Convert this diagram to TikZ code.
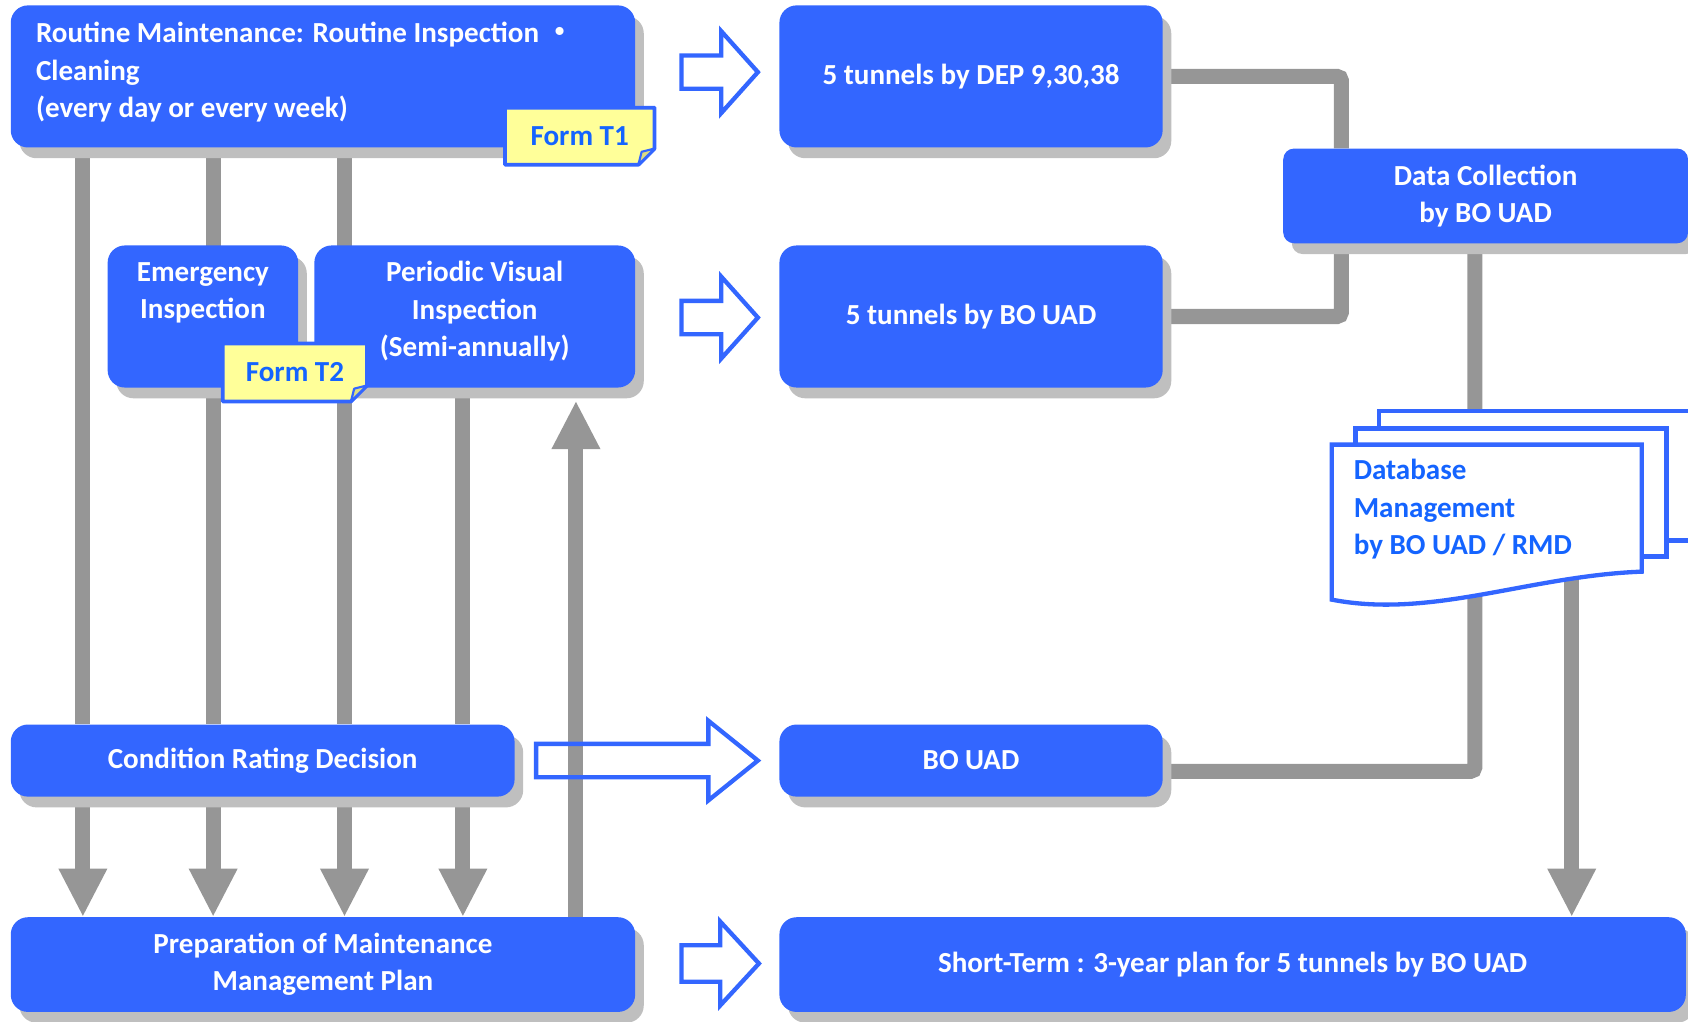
\documentclass[tikz,border=0pt]{standalone}
\usepackage{fontspec}
\setmainfont{Carlito}
\newfontfamily\cjk{Noto Sans CJK JP}
\usetikzlibrary{shadows,arrows.meta}

\definecolor{boxblue}{RGB}{51,102,255}
\definecolor{shadowgrey}{RGB}{191,191,191}
\definecolor{conngrey}{RGB}{150,150,150}
\definecolor{noteyellow}{RGB}{255,255,153}
\definecolor{foldyellow}{RGB}{220,220,130}
\definecolor{inkblue}{RGB}{20,100,255}

\pgfdeclarelayer{background}
\pgfsetlayers{background,main}

\tikzset{
  lbl/.style={font=\fontsize{27pt}{34.5pt}\selectfont\bfseries},
  stepbox/.style={lbl, fill=boxblue, text=white, rounded corners=16pt,
    inner sep=0pt, align=center,
    drop shadow={shadow xshift=8pt, shadow yshift=-10pt, fill=shadowgrey, opacity=1}},
  conn/.style={draw=conngrey, line width=14pt},
  arr/.style={conn, -{Triangle[width=42pt,length=45pt]}},
  hollow/.style={draw=boxblue, line width=4pt, line join=miter},
  page/.style={draw=boxblue, fill=white, line width=4pt},
  noteedge/.style={draw=boxblue, fill=noteyellow, line width=3.5pt, line join=round},
  notetxt/.style={lbl, text=inkblue},
}

% process box given by its corners: [options]{name}{x1}{y1}{x2}{y2}{text}
\newcommand\stepnode[7][]{%
  \node[stepbox, #1, minimum width={#5-#3}, minimum height={#6-#4}]
    (#2) at ({(#3+#5)/2},{(#4+#6)/2}) {#7};}

% hollow block arrow: tail x, head start x, tip x, centre y, shaft half height, head half height
\newcommand\blkarrow[6]{%
  \draw[hollow] (#1,#4-#5) -- (#2,#4-#5) -- (#2,#4-#6) -- (#3,#4)
    -- (#2,#4+#6) -- (#2,#4+#5) -- (#1,#4+#5) -- cycle;}

% sticky note with folded lower right corner: x1, y1, x2, y2, name, text
\newcommand\formnote[6]{%
  \draw[noteedge] (#1,#2) -- (#3,#2) -- (#3,#4-15) -- (#3-15,#4) -- (#1,#4) -- cycle;
  \draw[draw=boxblue, fill=foldyellow, line width=2pt, line join=round]
    (#3,#4-15) -- (#3-15,#4) -- (#3-12,#4-12) -- cycle;
  \node[notetxt] (#5) at ({(#1+#3)/2},{(#2+#4)/2}) {#6};}

\begin{document}
\begin{tikzpicture}[x=1pt, y=-1pt]
\useasboundingbox (0,0) rectangle (1568,949);
\clip (0,0) rectangle (1568,949);

% process boxes
\stepnode{box1}{10}{5}{590}{137}{}
\node[lbl, text=white, anchor=west, align=left] (box1txt) at (30,67)
  {Routine Maintenance: Routine Inspection {\cjk ・}\\Cleaning\\(every day or every week)};
\stepnode{emg}{100}{228}{277}{360}{}
\node[lbl, text=white, align=center] (emgtxt) at (188.5,272) {Emergency\\Inspection};
\stepnode{per}{292}{228}{590}{360}{}
\node[lbl, text=white, align=center] (pertxt) at (441,289) {Periodic Visual\\Inspection\\(Semi-annually)};
\stepnode{cond}{10}{673}{478}{740}{Condition Rating Decision}
\stepnode{prep}{10}{852}{590}{940}{Preparation of Maintenance\\Management Plan}

\stepnode{dep}{724}{5}{1080}{137}{5 tunnels by DEP 9,30,38}
\stepnode{bo1}{724}{228}{1080}{360}{5 tunnels by BO UAD}
\stepnode[rounded corners=10pt]{dc}{1192}{138}{1568}{226}{Data Collection\\by BO UAD}
\stepnode{bouad}{724}{673}{1080}{740}{BO UAD}
\stepnode{st}{724}{852}{1566}{940}{Short-Term : 3-year plan for 5 tunnels by BO UAD}

% notes
\formnote{469}{100}{608}{153}{formA}{Form T1}
\formnote{207}{319}{341}{373}{formB}{Form T2}

% stacked documents of the database
\draw[page] (1281,382) rectangle (1600,502);
\draw[page] (1259,398) rectangle (1548,517);
\draw[page] (1237,413) -- (1525,413) -- (1525,531)
  .. controls (1420,535) and (1330,575) .. (1237,557) -- cycle;
\node[lbl, text=inkblue, anchor=west, align=left] (db) at (1254,473)
  {Database\\Management\\by BO UAD / RMD};

% hollow block arrows between the columns
\blkarrow{633}{670}{704}{67}{15.5}{38}
\blkarrow{633}{670}{704}{295}{15.5}{38}
\blkarrow{498}{658}{704}{706.5}{15.5}{37}
\blkarrow{633}{669}{705}{895}{17}{39}

% column positions of the connectors
\coordinate (xa) at (77,0);
\coordinate (xb) at (198,0);
\coordinate (xc) at (320,0);
\coordinate (xd) at (430,0);
\coordinate (xe) at (535,0);
\coordinate (xf) at (1246,0);
\coordinate (xg) at (1370,0);
\coordinate (xh) at (1460,0);
\coordinate (pertip) at ([yshift=-12pt]per.south);
\coordinate (bouadin) at ([yshift=-10pt]bouad.east);
\coordinate (dbout) at (1460,535);

\begin{pgfonlayer}{background}
  \draw[conn] (xa |- box1.south) -- (xa |- cond.north);
  \draw[conn] (xb |- box1.south) -- (xb |- cond.north);
  \draw[conn] (xc |- box1.south) -- (xc |- cond.north);
  \draw[conn] (xd |- per.south) -- (xd |- cond.north);
  \draw[arr] (xa |- cond.south) -- (xa |- prep.north);
  \draw[arr] (xb |- cond.south) -- (xb |- prep.north);
  \draw[arr] (xc |- cond.south) -- (xc |- prep.north);
  \draw[arr] (xd |- cond.south) -- (xd |- prep.north);
  \draw[arr] (xe |- prep.north) -- (xe |- pertip);
  \draw[conn, rounded corners=4pt] (dep.east) -| (xf |- dc.north);
  \draw[conn, rounded corners=4pt] (bo1.east) -| (xf |- dc.south);
  \draw[conn, rounded corners=4pt] (xg |- dc.south) |- (bouadin);
  \draw[arr] (dbout) -- (xh |- st.north);
\end{pgfonlayer}
\end{tikzpicture}
\end{document}
